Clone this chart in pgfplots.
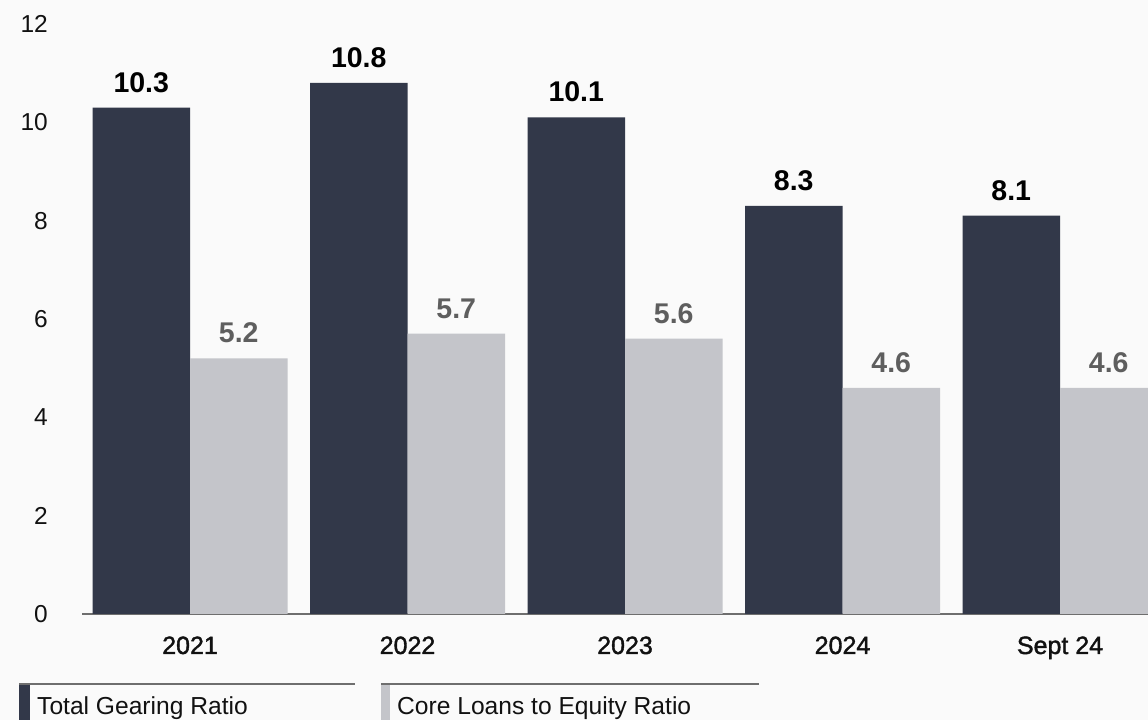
\documentclass[border=0pt]{standalone}
\usepackage{fontspec}
\setmainfont{Liberation Sans}
\newfontfamily\medfont[FakeBold=1.5]{Liberation Sans}
\usepackage{pgfplots}
\pgfplotsset{compat=1.18}
\definecolor{bgc}{HTML}{FAFAFA}
\definecolor{darkbar}{HTML}{323849}
\definecolor{lightbar}{HTML}{C4C5CA}
\definecolor{lightlab}{HTML}{5E5E5E}
\definecolor{axisgray}{HTML}{6E6E6E}
\definecolor{txt}{HTML}{111111}
\begin{document}
\begin{tikzpicture}
\fill[bgc] (0,0) rectangle (1148pt,720pt);
\path[use as bounding box] (0,0) rectangle (1148pt,720pt);
\begin{axis}[
  at={(82pt,106pt)}, anchor=south west,
  scale only axis, width=1066pt, height=590pt,
  ybar=0pt, bar width=97.5pt,
  xmin=-0.4966, xmax=4.4046, ymin=0, ymax=12,
  xtick={0,1,2,3,4},
  xticklabels={2021,2022,2023,2024,Sept 24},
  ytick={0,2,4,6,8,10,12},
  axis lines*=left,
  x axis line style={axisgray, line width=2pt},
  y axis line style={draw=none},
  major tick length=0pt,
  /pgf/number format/assume math mode=true,
  x tick label style={font=\fontsize{25}{30}\selectfont\medfont, text=txt, anchor=base, inner sep=0pt, yshift=-40pt},
  y tick label style={font=\fontsize{24.5}{29}\selectfont, text=txt, anchor=base east, inner sep=0pt, xshift=-34pt, yshift=-8.5pt},
  nodes near coords={\pgfmathprintnumber[fixed,precision=1,fixed zerofill]{\pgfplotspointmeta}},
  nodes near coords style={font=\fontsize{28.5}{33}\selectfont\bfseries, anchor=base, inner sep=0pt, yshift=15.5pt},
  clip=true,
]
\addplot[fill=darkbar, draw=none, nodes near coords style={text=black}] coordinates {(0,10.3) (1,10.8) (2,10.1) (3,8.3) (4,8.1)};
\addplot[fill=lightbar, draw=none, nodes near coords style={text=lightlab}] coordinates {(0,5.2) (1,5.7) (2,5.6) (3,4.6) (4,4.6)};
\end{axis}
% legend
\fill[darkbar] (19pt,0pt) rectangle (30pt,37pt);
\draw[axisgray, line width=2pt] (19pt,36pt) -- (355pt,36pt);
\node[anchor=base west, inner sep=0pt, text=txt, font=\fontsize{24.6}{29}\selectfont] at (37pt,6pt) {Total Gearing Ratio};
\fill[lightbar] (381pt,0pt) rectangle (390pt,37pt);
\draw[axisgray, line width=2pt] (381pt,36pt) -- (759pt,36pt);
\node[anchor=base west, inner sep=0pt, text=txt, font=\fontsize{24.6}{29}\selectfont] at (397pt,6pt) {Core Loans to Equity Ratio};
\end{tikzpicture}
\end{document}
